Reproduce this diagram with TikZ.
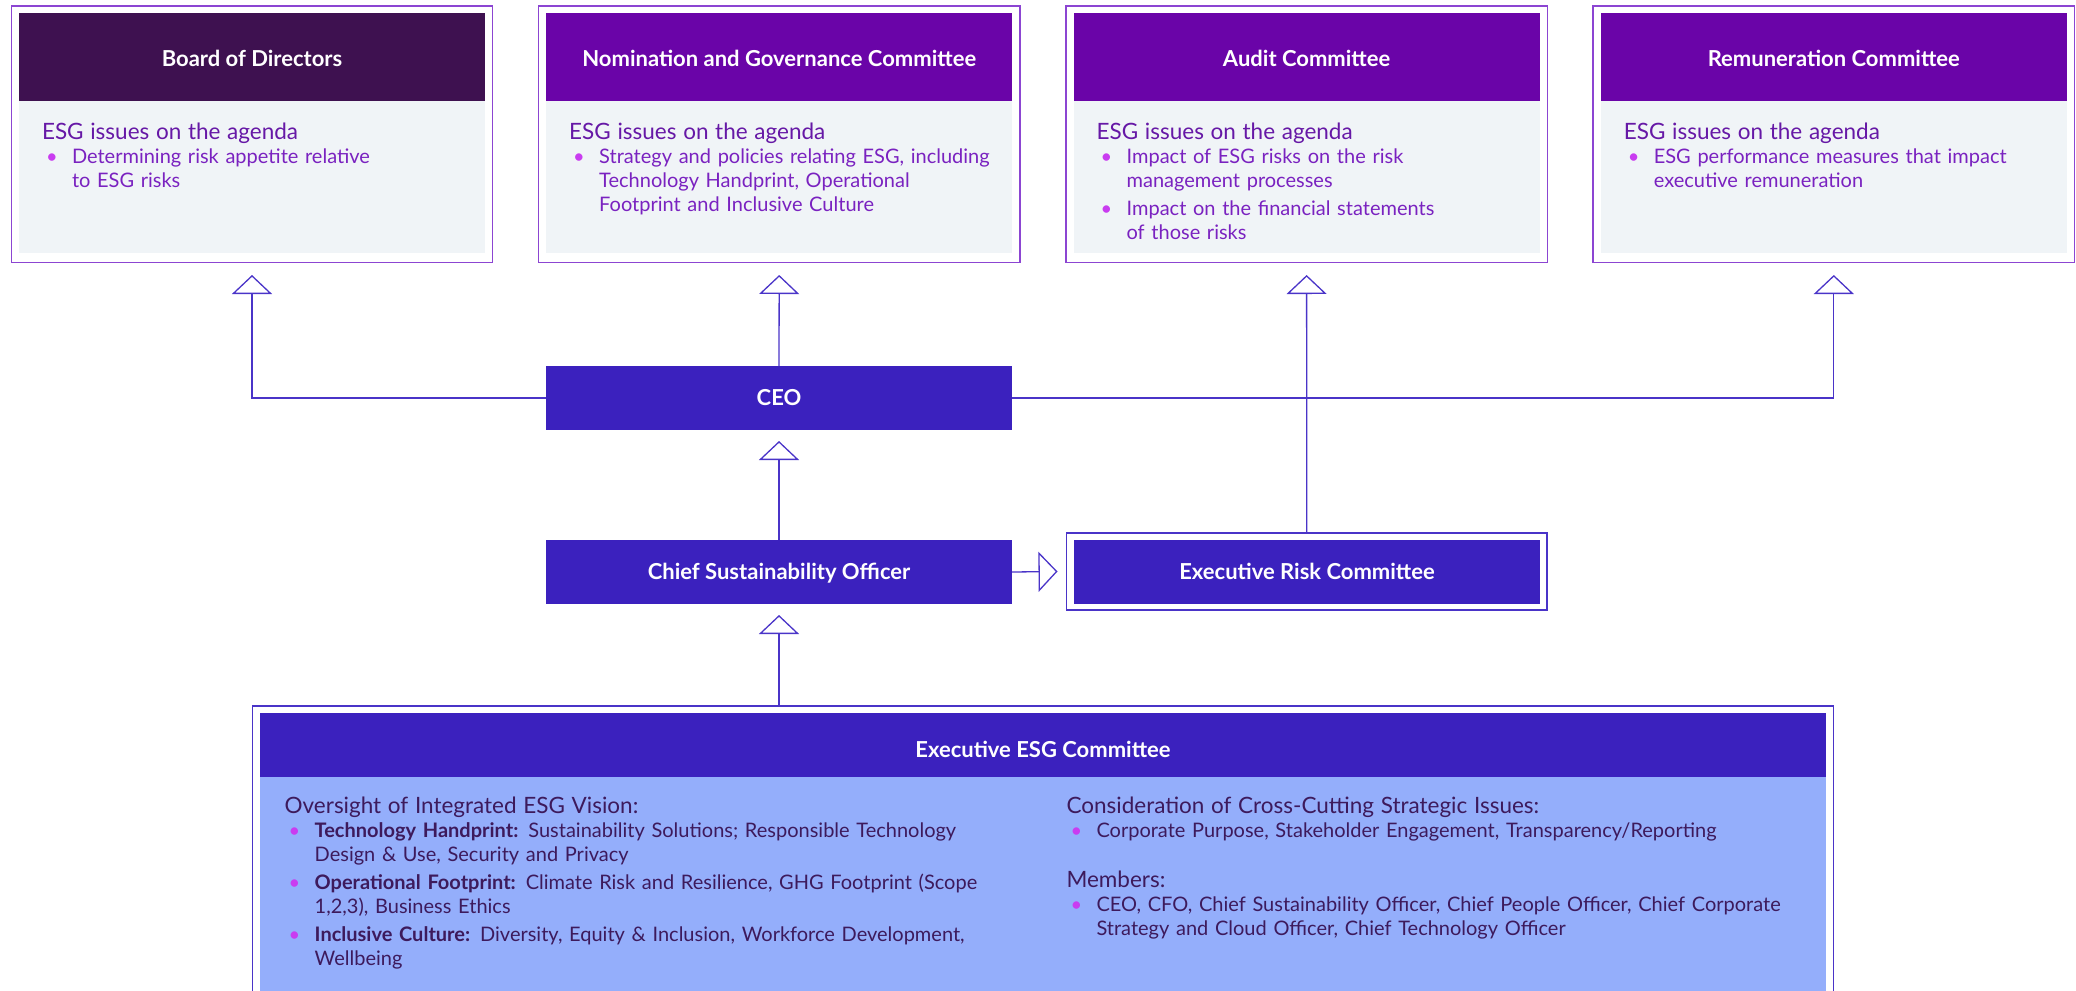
\documentclass[tikz,border=0pt]{standalone}
\usepackage{fontspec}
\setmainfont{Lato}
\usetikzlibrary{positioning,arrows.meta}

\definecolor{boardpurple}{HTML}{3E1150}
\definecolor{compurple}{HTML}{6A04A8}
\definecolor{frameviolet}{HTML}{8C45D2}
\definecolor{bodygrey}{HTML}{F0F4F7}
\definecolor{agendaviolet}{HTML}{6618A6}
\definecolor{itemviolet}{HTML}{7A22C0}
\definecolor{dotmagenta}{HTML}{C93CF0}
\definecolor{execblue}{HTML}{3B21BE}
\definecolor{linkblue}{HTML}{4A34C8}
\definecolor{esgbody}{HTML}{94AEFB}
\definecolor{esgtext}{HTML}{3D1A5C}

% heading line and bullet line of a text block
\newcommand{\agendahead}[1]{{\fontsize{22.5}{24}\selectfont\rule{0pt}{20pt}#1\par}}
\newcommand{\agendaitem}[1]{\par\hangindent=30pt\hangafter=1\noindent
  \makebox[30pt][l]{\hspace{4pt}\textcolor{dotmagenta}{\textbullet}}#1\par}
\newcommand{\itemgap}{\vspace{4pt}}

\begin{document}
\begin{tikzpicture}[x=1pt, y=-1pt,
    frame/.style={draw=frameviolet, line width=1.3pt, inner sep=0, outer sep=0,
      minimum width=481.5pt, minimum height=256.7pt},
    headbox/.style={fill=compurple, text=white, inner sep=0,
      font=\fontsize{22}{24}\selectfont\bfseries,
      minimum width=466pt, minimum height=87.4pt, text height=19.4pt, text depth=0pt},
    bodybox/.style={fill=bodygrey, inner sep=0, minimum width=466pt, minimum height=152pt},
    agenda/.style={anchor=north west, inner sep=0, text width=440pt, align=left,
      text=itemviolet, font=\fontsize{20}{24}\selectfont},
    execbox/.style={fill=execblue, text=white, inner sep=0, outer sep=0,
      font=\fontsize{22}{24}\selectfont\bfseries,
      minimum width=466pt, minimum height=64pt, text height=15.8pt, text depth=0pt},
    execframe/.style={draw=linkblue, line width=1.3pt, inner sep=0, outer sep=0},
    link/.style={draw=linkblue, line width=1.3pt},
    up/.style={link, -{Triangle[open, width=40pt, length=19pt]}},
  ]

  \path[use as bounding box, clip] (0,0) rectangle (2076,990);

  % ====== BOARD OF DIRECTORS ======
  \node[headbox, fill=boardpurple] (boardhead) at (252,57) {Board of Directors};
  \node[bodybox, below=0pt of boardhead] (boardbody) {};
  \node[frame] (board) at (252,134.35) {};
  \node[agenda, below right=18.6pt and 23pt of boardbody.north west] (boardtext) {%
    {\color{agendaviolet}\agendahead{ESG issues on the agenda}}
    \agendaitem{Determining risk appetite relative\newline to ESG risks}};

  % ====== NOMINATION AND GOVERNANCE COMMITTEE ======
  \node[headbox] (nomhead) at (779.2,57) {Nomination and Governance Committee};
  \node[bodybox, below=0pt of nomhead] (nombody) {};
  \node[frame] (nom) at (779.2,134.35) {};
  \node[agenda, below right=18.6pt and 23pt of nombody.north west] (nomtext) {%
    {\color{agendaviolet}\agendahead{ESG issues on the agenda}}
    \agendaitem{Strategy and policies relating ESG, including\newline
      Technology Handprint, Operational\newline Footprint and Inclusive Culture}};

  % ====== AUDIT COMMITTEE ======
  \node[headbox] (audithead) at (1306.6,57) {Audit Committee};
  \node[bodybox, below=0pt of audithead] (auditbody) {};
  \node[frame] (audit) at (1306.6,134.35) {};
  \node[agenda, below right=18.6pt and 23pt of auditbody.north west] (audittext) {%
    {\color{agendaviolet}\agendahead{ESG issues on the agenda}}
    \agendaitem{Impact of ESG risks on the risk\newline management processes}
    \itemgap
    \agendaitem{Impact on the financial statements\newline of those risks}};

  % ====== REMUNERATION COMMITTEE ======
  \node[headbox] (remhead) at (1833.8,57) {Remuneration Committee};
  \node[bodybox, below=0pt of remhead] (rembody) {};
  \node[frame] (rem) at (1833.8,134.35) {};
  \node[agenda, below right=18.6pt and 23pt of rembody.north west] (remtext) {%
    {\color{agendaviolet}\agendahead{ESG issues on the agenda}}
    \agendaitem{ESG performance measures that impact\newline executive remuneration}};

  % ====== EXECUTIVES ======
  \node[execbox] (ceo) at (779,398) {CEO};
  \node[execbox] (cso) at (779,572) {Chief Sustainability Officer};
  \node[execbox] (erchead) at (1307,572) {Executive Risk Committee};
  \node[execframe, minimum width=480.5pt, minimum height=77pt] (erc) at (1306.75,571.5) {};

  % ====== EXECUTIVE ESG COMMITTEE ======
  \node[execbox, minimum width=1566pt, minimum height=63.4pt, text height=24.8pt]
    (esghead) at (1043,745) {Executive ESG Committee};
  \node[fill=esgbody, inner sep=0, minimum width=1566pt, minimum height=223.3pt,
    below=0pt of esghead] (esgbody) {};
  \node[execframe, minimum width=1581pt, minimum height=300pt] (esg) at (1043,856) {};

  \node[agenda, text width=760pt, text=esgtext,
    below right=16.3pt and 24.7pt of esgbody.north west] (visiontext) {%
    \agendahead{Oversight of Integrated ESG Vision:}
    \agendaitem{\textbf{Technology Handprint:} Sustainability Solutions; Responsible Technology\newline
      Design \& Use, Security and Privacy}
    \itemgap
    \agendaitem{\textbf{Operational Footprint:} Climate Risk and Resilience, GHG Footprint (Scope\newline
      1,2,3), Business Ethics}
    \itemgap
    \agendaitem{\textbf{Inclusive Culture:} Diversity, Equity \& Inclusion, Workforce Development,\newline
      Wellbeing}};
  \node[agenda, text width=740pt, text=esgtext,
    below right=16.3pt and 806.5pt of esgbody.north west] (memberstext) {%
    \agendahead{Consideration of Cross-Cutting Strategic Issues:}
    \agendaitem{Corporate Purpose, Stakeholder Engagement, Transparency/Reporting}
    \vspace{26pt}
    \agendahead{Members:}
    \agendaitem{CEO, CFO, Chief Sustainability Officer, Chief People Officer, Chief Corporate\newline
      Strategy and Cloud Officer, Chief Technology Officer}};

  % ====== CONNECTORS ======
  \draw[up] (ceo.west) -| ([yshift=-12.3pt]board.south);
  \draw[up] (ceo.north) -- ([yshift=-12.3pt]nom.south);
  \draw[up] (ceo.east) -| ([yshift=-12.3pt]rem.south);
  \draw[up] (erc.north) -- ([yshift=-12.3pt]audit.south);
  \draw[up] (cso.north) -- ([yshift=-11pt]ceo.south);
  \draw[up] (cso.east) -- ([xshift=-9pt]erc.west);
  \draw[up] (cso.south |- esg.north) -- ([yshift=-11pt]cso.south);

\end{tikzpicture}
\end{document}
